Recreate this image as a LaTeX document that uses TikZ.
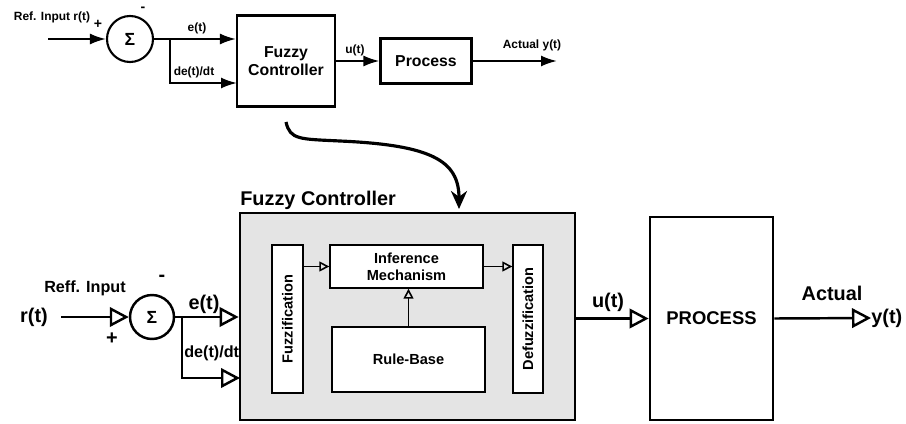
\documentclass[tikz,border=0pt]{standalone}
\usepackage{fontspec}
\setmainfont{Liberation Sans}
\usetikzlibrary{arrows.meta,calc}
\definecolor{panelGray}{RGB}{228,228,228}

\begin{document}
\begin{tikzpicture}[x=0.02cm, y=-0.02cm,
  txtS/.style={font=\fontsize{6.8}{7.5}\selectfont\bfseries, inner sep=0pt},
  txtM/.style={font=\fontsize{9.2}{10.5}\selectfont\bfseries, inner sep=0pt},
  txtL/.style={font=\fontsize{11.3}{13}\selectfont\bfseries, inner sep=0pt},
  topBlk/.style={draw, line width=1.2pt, fill=white, align=center, font=\fontsize{9}{10.5}\selectfont\bfseries},
  subBlk/.style={draw, line width=0.8pt, fill=white, align=center, inner sep=0pt, font=\fontsize{8.3}{9.6}\selectfont\bfseries},
  sumNode/.style={draw, circle, inner sep=0pt, fill=white},
  fArrow/.style={line width=1.2pt, -{Latex[length=3.2mm,width=2.2mm]}},
  oArrow/.style={line width=1.4pt, -{Triangle[open,length=3.8mm,width=3.9mm,line width=1.4pt]}},
  iArrow/.style={line width=0.9pt, -{Triangle[open,length=2mm,width=2mm]}}]
  \useasboundingbox (0,0) rectangle (906,423);

  % 1. Top loop
  \node[sumNode, line width=1.2pt, minimum size=9.2mm, font=\fontsize{10}{11}\selectfont\bfseries] (sumA) at (130,39) {Σ};
  \node[topBlk, minimum width=19.6mm, minimum height=18.2mm] (fcA) at (286,61) {Fuzzy\\Controller};
  \node[topBlk, minimum width=18.2mm, minimum height=9mm] (procA) at (426,61) {Process};
  \coordinate (inA) at (48,39);
  \coordinate (brA) at (170,39);
  \coordinate (ddA) at (237,83);
  \coordinate (outA) at (557,61);
  \node[txtS] (refA) at (52,17) {Ref. Input r(t)};
  \node[txtS, font=\fontsize{8}{9}\selectfont\bfseries] (plusA) at (98,24) {+};
  \node[txtS, font=\fontsize{8}{9}\selectfont\bfseries] (minusA) at (143,9) {-};
  \node[txtS] (eA) at (197,28) {e(t)};
  \node[txtS] (deA) at (194,72) {de(t)/dt};
  \node[txtS] (uA) at (355,50) {u(t)};
  \node[txtS] (yA) at (532,45) {Actual y(t)};
  \draw[fArrow] (inA) -- (sumA.west);
  \draw[line width=1.2pt] (sumA.east) -- (brA);
  \draw[fArrow] (brA) -- (brA -| fcA.west);
  \draw[fArrow] (brA) |- (ddA);
  \draw[fArrow] (fcA.east) -- (procA.west);
  \draw[fArrow] (procA.east) -- (outA);

  % 2. Zoom arrow
  \coordinate (curveA) at (286,122);
  \coordinate (curveB) at (459,209);
  \draw[line width=1.8pt, -{Stealth[length=3.6mm,width=3.2mm]}] (curveA)
    .. controls (290,140) and (300,139) .. (340,141)
    .. controls (430,145) and (459,160) .. (curveB);

  % 3. Fuzzy controller detail
  \node[draw, line width=1.6pt, fill=panelGray, minimum width=67mm, minimum height=41.4mm] (fcB) at (407.5,316.5) {};
  \node[txtL, anchor=base west] (fcTitle) at (240,205) {Fuzzy Controller};
  \node[subBlk, rotate=90, minimum width=29.6mm, minimum height=6.2mm] (fuzz) at (287.5,319) {Fuzzification};
  \node[subBlk, minimum width=30.6mm, minimum height=8.6mm] (infer) at (406.5,266.5) {Inference\\Mechanism};
  \node[subBlk, minimum width=30.6mm, minimum height=13mm] (rule) at (408.5,359.5) {Rule-Base};
  \node[subBlk, rotate=90, minimum width=29.6mm, minimum height=6mm] (defuzz) at (528,319) {Defuzzification};
  % rotated nodes: south = right side, north = left side
  \draw[iArrow] (fuzz.south |- infer.west) -- (infer.west);
  \draw[iArrow] (infer.east) -- (defuzz.north |- infer.east);
  \draw[iArrow] (rule.north) -- (rule.north |- infer.south);

  % 4. Bottom loop
  \node[txtL] (rB) at (34,317) {r(t)};
  \node[txtM] (refB) at (85,288) {Reff. Input};
  \node[sumNode, line width=1.4pt, minimum size=8.8mm, font=\fontsize{10}{11}\selectfont\bfseries] (sumB) at (152,317) {Σ};
  \node[txtL] (minusB) at (162,278) {-};
  \node[txtL] (plusB) at (112,339) {+};
  \node[txtL] (eB) at (204,304) {e(t)};
  \node[txtM, anchor=west] (deB) at (184,353) {de(t)/dt};
  \coordinate (brB) at (182,317);
  \coordinate (ddB) at (240,378);
  \draw[oArrow, shorten <=2.6mm] (rB.east) -- (sumB.west);
  \draw[line width=1.4pt] (sumB.east) -- (brB);
  \draw[oArrow] (brB) -- (brB -| fcB.west);
  \draw[oArrow] (brB) |- (ddB);

  \node[draw, line width=1.6pt, fill=white, minimum width=24.6mm, minimum height=40.6mm, font=\fontsize{10.5}{12}\selectfont\bfseries] (procB) at (711.5,318.5) {PROCESS};
  \node[txtL] (uB) at (608,302) {u(t)};
  \node[txtL] (actB) at (832,293) {Actual};
  \node[txtL, anchor=west] (yB) at (871,318) {y(t)};
  \draw[oArrow] (fcB.east |- procB.west) -- (procB.west);
  \draw[oArrow] (procB.east) -- (yB.west);
\end{tikzpicture}
\end{document}
